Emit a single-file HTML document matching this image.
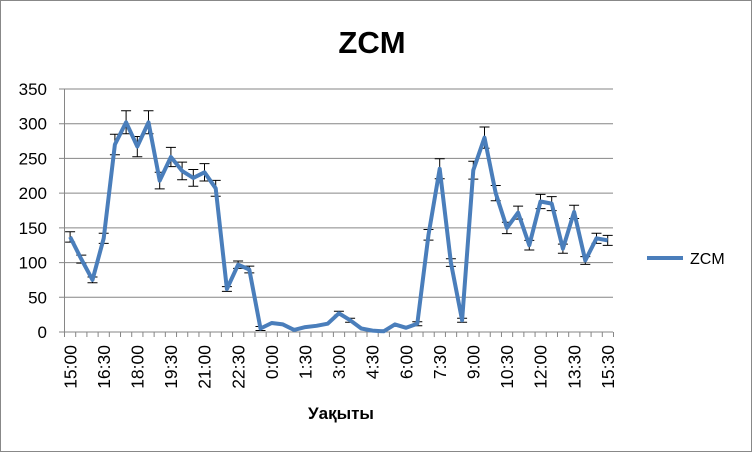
<!DOCTYPE html><html><head><style>body{margin:0;background:#fff}svg{display:block}</style></head><body>
<svg width="752" height="452" xmlns="http://www.w3.org/2000/svg" font-family="Liberation Sans, sans-serif">
<rect x="0.5" y="0.5" width="751" height="451" fill="#fff" stroke="#888"/>
<text x="372" y="53" font-size="31" font-weight="bold" text-anchor="middle">ZCM</text>
<g stroke="#868686" stroke-width="1">
<line x1="59" x2="613" y1="332" y2="332"/><line x1="59" x2="613" y1="297.3" y2="297.3"/><line x1="59" x2="613" y1="262.6" y2="262.6"/><line x1="59" x2="613" y1="227.9" y2="227.9"/><line x1="59" x2="613" y1="193.1" y2="193.1"/><line x1="59" x2="613" y1="158.4" y2="158.4"/><line x1="59" x2="613" y1="123.7" y2="123.7"/><line x1="59" x2="613" y1="89" y2="89"/>
<line x1="64.5" x2="64.5" y1="89" y2="332"/>
<line x1="64" x2="614" y1="334.5" y2="334.5" stroke-width="5" stroke-dasharray="1 10.204"/>
</g>
<g font-size="17" text-anchor="end">
<text x="47" y="338">0</text><text x="47" y="303.3">50</text><text x="47" y="268.6">100</text><text x="47" y="233.9">150</text><text x="47" y="199.1">200</text><text x="47" y="164.4">250</text><text x="47" y="129.7">300</text><text x="47" y="95">350</text>
</g>
<g font-size="17.5" text-anchor="end">
<text transform="translate(76.3,345) rotate(-90)">15:00</text>
<text transform="translate(109.9,345) rotate(-90)">16:30</text>
<text transform="translate(143.5,345) rotate(-90)">18:00</text>
<text transform="translate(177.1,345) rotate(-90)">19:30</text>
<text transform="translate(210.7,345) rotate(-90)">21:00</text>
<text transform="translate(244.3,345) rotate(-90)">22:30</text>
<text transform="translate(277.9,345) rotate(-90)">0:00</text>
<text transform="translate(311.5,345) rotate(-90)">1:30</text>
<text transform="translate(345.1,345) rotate(-90)">3:00</text>
<text transform="translate(378.7,345) rotate(-90)">4:30</text>
<text transform="translate(412.3,345) rotate(-90)">6:00</text>
<text transform="translate(445.9,345) rotate(-90)">7:30</text>
<text transform="translate(479.5,345) rotate(-90)">9:00</text>
<text transform="translate(513.1,345) rotate(-90)">10:30</text>
<text transform="translate(546.7,345) rotate(-90)">12:00</text>
<text transform="translate(580.3,345) rotate(-90)">13:30</text>
<text transform="translate(613.9,345) rotate(-90)">15:30</text>
</g>
<path fill="none" stroke="#000" stroke-width="1" d="
M70.1,231.7V242.1M65.1,231.7h10M65.1,242.1h10
M81.3,255.1V263.1M76.3,255.1h10M76.3,263.1h10
M92.5,277V282.8M87.5,277h10M87.5,282.8h10
M103.7,233.2V243.4M98.7,233.2h10M98.7,243.4h10
M114.9,134.2V154.8M109.9,134.2h10M109.9,154.8h10
M126.1,110.8V133.8M121.1,110.8h10M121.1,133.8h10
M137.3,136.5V156.7M132.3,136.5h10M132.3,156.7h10
M148.5,110.8V133.8M143.5,110.8h10M143.5,133.8h10
M159.7,172.3V188.9M154.7,172.3h10M154.7,188.9h10
M170.9,147.4V166.6M165.9,147.4h10M165.9,166.6h10
M182.1,162.1V179.7M177.1,162.1h10M177.1,179.7h10
M193.3,169.5V186.3M188.3,169.5h10M188.3,186.3h10
M204.5,163.6V181M199.5,163.6h10M199.5,181h10
M215.7,180.4V196.2M210.7,180.4h10M210.7,196.2h10
M226.9,286.6V291.4M221.9,286.6h10M221.9,291.4h10
M238.1,261V268.4M233.1,261h10M233.1,268.4h10
M249.3,266.1V272.9M244.3,266.1h10M244.3,272.9h10
M260.5,326.5V330.5M255.5,326.5h10M255.5,330.5h10
M338.9,311.3V315.3M333.9,311.3h10M333.9,315.3h10
M350.1,318.2V322.2M345.1,318.2h10M345.1,322.2h10
M417.3,321.7V325.7M412.3,321.7h10M412.3,325.7h10
M428.5,229.5V240.1M423.5,229.5h10M423.5,240.1h10
M439.7,158.8V178.8M434.7,158.8h10M434.7,178.8h10
M450.9,258.8V266.4M445.9,258.8h10M445.9,266.4h10
M462.1,318.2V322.2M457.1,318.2h10M457.1,322.2h10
M473.3,161.3V179.1M468.3,161.3h10M468.3,179.1h10
M484.5,127V148.2M479.5,127h10M479.5,148.2h10
M495.7,185.5V200.7M490.7,185.5h10M490.7,200.7h10
M506.9,222.2V233.6M501.9,222.2h10M501.9,233.6h10
M518.1,206.1V219.1M513.1,206.1h10M513.1,219.1h10
M529.3,240.4V250M524.3,240.4h10M524.3,250h10
M540.5,194.4V208.6M535.5,194.4h10M535.5,208.6h10
M551.7,196.6V210.6M546.7,196.6h10M546.7,210.6h10
M562.9,244.1V253.3M557.9,244.1h10M557.9,253.3h10
M574.1,205.3V218.5M569.1,205.3h10M569.1,218.5h10
M585.3,256.6V264.4M580.3,256.6h10M580.3,264.4h10
M596.5,233.2V243.4M591.5,233.2h10M591.5,243.4h10
M607.7,235.4V245.4M602.7,235.4h10M602.7,245.4h10"/>
<polyline fill="none" stroke="#4a7ebb" stroke-width="4" stroke-linejoin="round" points="70.1,236.9 81.3,259.1 92.5,279.9 103.7,238.3 114.9,144.5 126.1,122.3 137.3,146.6 148.5,122.3 159.7,180.6 170.9,157 182.1,170.9 193.3,177.9 204.5,172.3 215.7,188.3 226.9,289 238.1,264.7 249.3,269.5 260.5,328.5 271.7,323 282.9,324.4 294.1,329.9 305.3,327.1 316.5,325.8 327.7,323.7 338.9,313.3 350.1,320.2 361.3,328.5 372.5,330.6 383.7,331.3 394.9,324.4 406.1,327.8 417.3,323.7 428.5,234.8 439.7,168.8 450.9,262.6 462.1,320.2 473.3,170.2 484.5,137.6 495.7,193.1 506.9,227.9 518.1,212.6 529.3,245.2 540.5,201.5 551.7,203.6 562.9,248.7 574.1,211.9 585.3,260.5 596.5,238.3 607.7,240.4"/>
<text x="341" y="419" font-size="17" font-weight="bold" text-anchor="middle">Уақыты</text>
<line x1="647" y1="258" x2="683" y2="258" stroke="#4a7ebb" stroke-width="4"/>
<text x="690" y="264" font-size="16">ZCM</text>
</svg></body></html>
